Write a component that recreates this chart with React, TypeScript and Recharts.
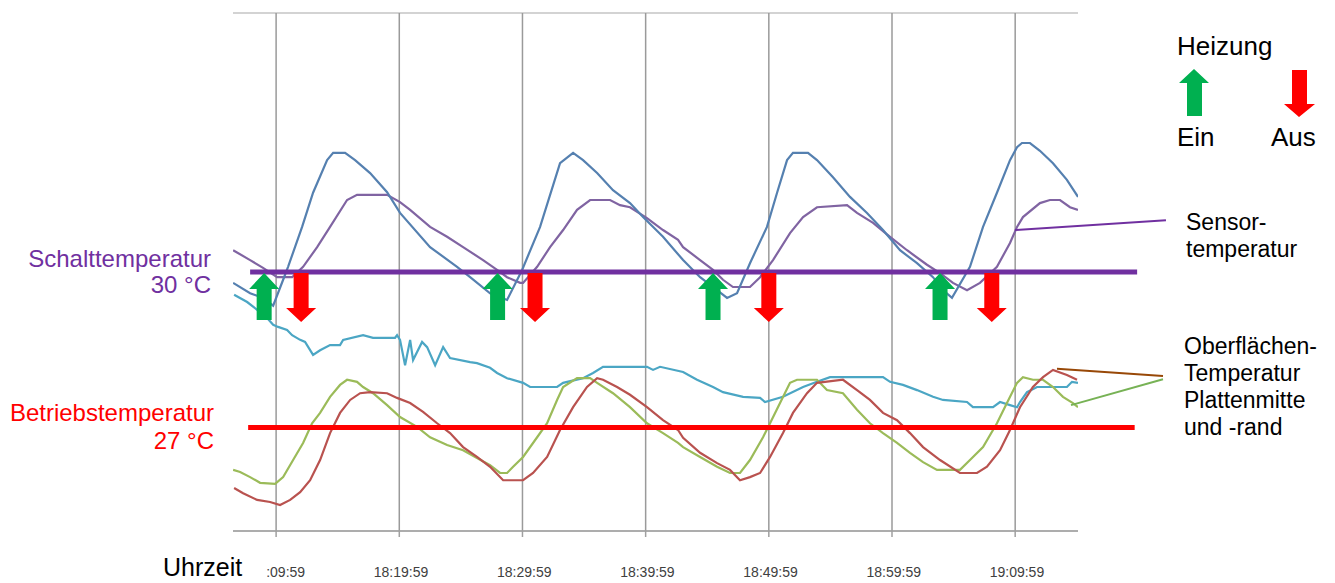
import React from "react";
import {
  ComposedChart,
  Line,
  Scatter,
  XAxis,
  YAxis,
  CartesianGrid,
  ReferenceLine,
} from "recharts";

// Zeit in Minuten ab 18:09:59, Temperatur in °C
const TIME_TICKS = [0, 10, 20, 30, 40, 50, 60];
const TIME_LABELS = [":09:59", "18:19:59", "18:29:59", "18:39:59", "18:49:59", "18:59:59", "19:09:59"];
const TEMP_TICKS = [25, 26, 27, 28, 29, 30, 31, 32, 33, 34, 35];

const SCHALT_TEMP = 30;
const BETRIEB_TEMP = 27;

const HEAT_ON = [-0.97, 17.98, 35.47, 53.9];
const HEAT_OFF = [2.03, 21.02, 40.0, 58.1];

const heizelement = [
  [-3.49, 29.79], [-2.11, 29.59], [-1.06, 29.5], [-0.24, 29.35], [0.57, 29.85], [0.97, 30.1],
  [2.11, 30.87], [3.0, 31.53], [4.14, 32.16], [4.63, 32.3], [5.6, 32.3], [6.41, 32.16],
  [7.63, 31.91], [9.01, 31.54], [10.06, 31.14], [12.5, 30.48], [14.69, 30.1], [15.75, 29.9],
  [17.37, 29.59], [18.75, 29.46], [19.97, 30.04], [21.43, 30.87], [23.05, 32.1], [24.11, 32.3],
  [24.92, 32.16], [26.06, 31.91], [27.35, 31.58], [28.73, 31.33], [29.79, 31.06], [31.41, 30.68],
  [33.04, 30.23], [34.42, 29.9], [35.8, 29.65], [36.61, 29.5], [37.42, 29.59], [38.47, 30.17],
  [39.85, 30.87], [40.67, 31.53], [41.48, 32.16], [41.96, 32.3], [43.18, 32.3], [43.91, 32.16],
  [45.21, 31.83], [46.59, 31.45], [47.97, 31.14], [49.27, 30.81], [50.65, 30.42], [52.03, 30.17],
  [53.33, 29.9], [54.14, 29.65], [54.87, 29.5], [56.33, 30.1], [57.39, 30.87], [58.52, 31.53],
  [59.58, 32.16], [60.15, 32.41], [60.55, 32.49], [61.2, 32.49], [62.01, 32.34], [63.07, 32.1],
  [64.2, 31.78], [65.1, 31.45],
];

const sensor = [
  [-3.49, 30.42], [-2.11, 30.23], [-1.06, 30.08], [0.08, 29.9], [1.3, 29.9], [2.19, 30.1],
  [3.33, 30.48], [4.38, 30.87], [5.76, 31.39], [6.57, 31.49], [9.01, 31.49], [10.06, 31.35],
  [10.88, 31.2], [12.5, 30.87], [13.88, 30.68], [15.18, 30.48], [16.8, 30.23], [17.94, 30.04],
  [18.75, 29.9], [19.81, 29.79], [20.05, 29.79], [21.19, 30.1], [22.24, 30.48], [23.3, 30.81],
  [24.43, 31.2], [25.49, 31.39], [27.11, 31.39], [27.92, 31.29], [28.73, 31.25], [30.11, 31.04],
  [31.41, 30.81], [32.63, 30.62], [33.04, 30.48], [34.42, 30.23], [35.47, 30.04], [36.28, 29.85],
  [37.09, 29.71], [38.47, 29.71], [39.29, 29.9], [40.34, 30.23], [41.72, 30.75], [42.78, 31.06],
  [43.91, 31.25], [46.35, 31.29], [47.16, 31.14], [48.46, 30.95], [49.84, 30.68], [51.22, 30.42],
  [52.84, 30.14], [53.9, 29.98], [54.95, 29.79], [56.09, 29.65], [57.14, 29.79], [58.52, 30.1],
  [59.58, 30.56], [60.15, 30.87], [60.63, 31.06], [62.01, 31.33], [62.82, 31.39], [63.64, 31.39],
  [64.45, 31.25], [65.1, 31.2],
];

const luft = [
  [-3.41, 29.56], [-2.35, 29.42], [-1.54, 29.27], [-0.73, 29.11], [-0.24, 28.98], [0.16, 28.94],
  [0.89, 28.88], [1.3, 28.78], [1.95, 28.69], [2.35, 28.65], [3.0, 28.4], [3.57, 28.49],
  [4.38, 28.59], [5.19, 28.59], [5.44, 28.69], [7.06, 28.78], [7.87, 28.73], [9.66, 28.73],
  [9.82, 28.78], [10.06, 28.69], [10.47, 28.2], [10.88, 28.69], [11.12, 28.3], [11.85, 28.65],
  [12.26, 28.55], [12.91, 28.2], [13.56, 28.55], [14.12, 28.34], [15.75, 28.26], [16.31, 28.24],
  [17.37, 28.15], [17.94, 28.05], [18.75, 27.95], [20.05, 27.86], [20.62, 27.78], [22.81, 27.78],
  [23.3, 27.86], [24.92, 27.95], [25.73, 28.05], [26.54, 28.17], [30.11, 28.17], [30.6, 28.11],
  [31.17, 28.17], [33.04, 28.07], [34.17, 27.92], [35.47, 27.78], [36.28, 27.68], [37.91, 27.59],
  [39.29, 27.57], [39.69, 27.49], [41.15, 27.59], [42.78, 27.78], [43.91, 27.88], [44.97, 27.97],
  [49.27, 27.97], [49.84, 27.88], [50.89, 27.82], [52.03, 27.72], [53.33, 27.59], [54.14, 27.53],
  [56.09, 27.49], [56.57, 27.39], [58.2, 27.39], [58.77, 27.49], [59.58, 27.43], [60.15, 27.39],
  [60.39, 27.49], [60.96, 27.68], [61.77, 27.78], [64.2, 27.78], [64.61, 27.88], [65.1, 27.86],
];

const plattenrand = [
  [-3.49, 26.18], [-2.92, 26.14], [-2.11, 26.04], [-1.3, 25.93], [-0.08, 25.91], [0.57, 26.04],
  [1.38, 26.37], [2.19, 26.7], [2.92, 27.08], [3.57, 27.28], [4.38, 27.59], [5.19, 27.82],
  [5.76, 27.92], [6.57, 27.88], [7.06, 27.78], [7.87, 27.66], [9.01, 27.43], [10.06, 27.2],
  [11.44, 27.01], [12.5, 26.81], [13.88, 26.66], [15.18, 26.56], [16.31, 26.41], [17.37, 26.27],
  [18.18, 26.12], [18.75, 26.12], [19.24, 26.24], [20.05, 26.43], [21.19, 26.81], [22.0, 27.08],
  [22.81, 27.53], [23.3, 27.78], [24.43, 27.95], [25.49, 27.95], [26.06, 27.86], [27.35, 27.66],
  [28.73, 27.39], [30.11, 27.08], [31.41, 26.89], [32.63, 26.7], [33.04, 26.62], [34.42, 26.43],
  [35.8, 26.24], [36.85, 26.12], [37.66, 26.12], [38.47, 26.37], [39.53, 26.81], [40.1, 27.08],
  [40.91, 27.47], [41.72, 27.86], [42.29, 27.92], [43.91, 27.92], [44.72, 27.72], [46.02, 27.66],
  [47.16, 27.34], [48.21, 27.08], [49.27, 26.89], [50.41, 26.7], [51.46, 26.51], [52.52, 26.33],
  [53.65, 26.18], [55.52, 26.18], [56.33, 26.37], [57.39, 26.62], [58.52, 27.08], [59.33, 27.47],
  [60.15, 27.86], [60.63, 27.97], [61.44, 27.92], [62.26, 27.92], [63.07, 27.78], [63.88, 27.59],
  [64.69, 27.47], [65.1, 27.39],
];

const plattenmitte = [
  [-3.41, 25.83], [-2.68, 25.73], [-1.54, 25.6], [-0.49, 25.56], [0.32, 25.5], [1.14, 25.6],
  [1.95, 25.75], [2.76, 25.98], [3.57, 26.37], [4.38, 26.89], [5.19, 27.28], [6.01, 27.53],
  [6.82, 27.66], [7.63, 27.68], [9.01, 27.66], [9.82, 27.57], [10.88, 27.47], [11.93, 27.3],
  [13.07, 27.08], [14.12, 26.89], [15.18, 26.62], [16.31, 26.43], [17.37, 26.24], [18.43, 25.98],
  [20.05, 25.98], [20.86, 26.12], [22.0, 26.43], [23.05, 26.95], [24.11, 27.39], [25.24, 27.78],
  [26.06, 27.95], [26.54, 27.92], [27.68, 27.78], [28.73, 27.63], [30.11, 27.39], [31.41, 27.14],
  [32.63, 26.95], [33.04, 26.8], [34.42, 26.51], [35.8, 26.31], [36.85, 26.18], [37.66, 25.98],
  [38.47, 26.04], [39.29, 26.12], [40.1, 26.43], [41.15, 26.89], [41.96, 27.28], [43.1, 27.66],
  [43.91, 27.86], [46.02, 27.92], [47.16, 27.72], [48.21, 27.53], [49.27, 27.28], [50.41, 27.14],
  [51.46, 26.89], [52.52, 26.62], [53.9, 26.37], [55.52, 26.12], [56.9, 26.12], [57.71, 26.24],
  [58.77, 26.56], [59.58, 26.95], [60.39, 27.39], [61.44, 27.78], [62.26, 27.97], [63.07, 28.11],
  [64.2, 28.01], [65.02, 27.92],
];

const toRows = (pts: number[][]) => pts.map(([t, v]) => ({ t, v }));

const FONT = "'Liberation Sans', Arial, sans-serif";

const TimeTick = (props: any) => {
  const { x, y, payload } = props;
  const i = TIME_TICKS.indexOf(payload.value);
  return (
    <text x={x + 29} y={y} dy={38} textAnchor="end" fontSize={14} fontFamily={FONT} fill="#404040">
      {TIME_LABELS[i]}
    </text>
  );
};

const UpArrow = (props: any) => {
  const { cx, cy } = props;
  const top = cy + 1;
  return (
    <polygon
      points={`${cx},${top} ${cx + 15},${top + 16} ${cx + 7.5},${top + 16} ${cx + 7.5},${top + 47} ${cx - 7.5},${top + 47} ${cx - 7.5},${top + 16} ${cx - 15},${top + 16}`}
      fill="#00B050"
    />
  );
};

const DownArrow = (props: any) => {
  const { cx, cy } = props;
  const top = cy + 1;
  return (
    <polygon
      points={`${cx - 7.5},${top} ${cx + 7.5},${top} ${cx + 7.5},${top + 35} ${cx + 15},${top + 35} ${cx},${top + 49} ${cx - 15},${top + 35} ${cx - 7.5},${top + 35}`}
      fill="#FF0000"
    />
  );
};

function Annotations() {
  return (
    <svg
      width={1335}
      height={583}
      style={{ position: "absolute", left: 0, top: 0, pointerEvents: "none" }}
      fontFamily={FONT}
    >
      <text x={211} y={267} textAnchor="end" fontSize={24} fill="#7030A0">Schalttemperatur</text>
      <text x={211} y={293} textAnchor="end" fontSize={24} fill="#7030A0">30 °C</text>
      <text x={214} y={421} textAnchor="end" fontSize={24} fill="#FF0000">Betriebstemperatur</text>
      <text x={214} y={449} textAnchor="end" fontSize={24} fill="#FF0000">27 °C</text>

      <text x={1177} y={55} fontSize={26} fill="#000">Heizung</text>
      <polygon points="1194,69 1209,83 1202,83 1202,116 1187,116 1187,83 1179,83" fill="#00B050" />
      <polygon points="1292,70 1307,70 1307,104 1315,104 1299,117 1284,104 1292,104" fill="#FF0000" />
      <text x={1177} y={146} fontSize={26} fill="#000">Ein</text>
      <text x={1271} y={146} fontSize={26} fill="#000">Aus</text>

      <text x={1186} y={230} fontSize={23} fill="#000">Sensor-</text>
      <text x={1186} y={257} fontSize={23} fill="#000">temperatur</text>

      <text x={1184} y={354} fontSize={23} fill="#000">Oberflächen-</text>
      <text x={1184} y={381} fontSize={23} fill="#000">Temperatur</text>
      <text x={1184} y={408} fontSize={23} fill="#000">Plattenmitte</text>
      <text x={1184} y={435} fontSize={23} fill="#000">und -rand</text>

      <text x={163} y={576} fontSize={25} fill="#000">Uhrzeit</text>
    </svg>
  );
}

export default function App() {
  return (
    <div style={{ position: "absolute", left: 0, top: 0, width: 1335, height: 583, background: "#fff" }}>
      <ComposedChart width={1335} height={583} margin={{ top: 13, right: 257, bottom: 12, left: 233 }}>
        <CartesianGrid vertical={false} stroke="#C4C4C4" strokeWidth={1.5} />
        <CartesianGrid horizontal={false} syncWithTicks stroke="#9A9A9A" strokeWidth={1.5} />
        <XAxis
          type="number"
          dataKey="t"
          domain={[-3.5, 65.1]}
          allowDataOverflow
          ticks={TIME_TICKS}
          height={40}
          tick={<TimeTick />}
          tickSize={6}
          stroke="#A0A0A0"
          strokeWidth={1.5}
        />
        <YAxis
          type="number"
          domain={[25, 35]}
          ticks={TEMP_TICKS}
          width={0}
          tick={false}
          axisLine={false}
          tickLine={false}
        />
        <Line data={toRows(luft)} dataKey="v" stroke="#4BA6C4" strokeWidth={2.2} dot={false} isAnimationActive={false} />
        <Line data={toRows(plattenrand)} dataKey="v" stroke="#9BBB59" strokeWidth={2.2} dot={false} isAnimationActive={false} />
        <Line data={toRows(plattenmitte)} dataKey="v" stroke="#B9524F" strokeWidth={2.2} dot={false} isAnimationActive={false} />
        <Line data={toRows(sensor)} dataKey="v" stroke="#8064A2" strokeWidth={2.2} dot={false} isAnimationActive={false} />
        <Line data={toRows(heizelement)} dataKey="v" stroke="#5580B0" strokeWidth={2.2} dot={false} isAnimationActive={false} />

        <ReferenceLine
          segment={[{ x: -2.11, y: SCHALT_TEMP }, { x: 69.9, y: SCHALT_TEMP }]}
          stroke="#7030A0"
          strokeWidth={5}
          ifOverflow="visible"
        />
        <ReferenceLine
          segment={[{ x: -2.27, y: BETRIEB_TEMP }, { x: 69.7, y: BETRIEB_TEMP }]}
          stroke="#FF0000"
          strokeWidth={5}
          ifOverflow="visible"
        />
        <ReferenceLine
          segment={[{ x: 59.98, y: 30.81 }, { x: 72.24, y: 31.0 }]}
          stroke="#7030A0"
          strokeWidth={2}
          ifOverflow="visible"
        />
        <ReferenceLine
          segment={[{ x: 63.39, y: 28.13 }, { x: 72.0, y: 27.99 }]}
          stroke="#984807"
          strokeWidth={2}
          ifOverflow="visible"
        />
        <ReferenceLine
          segment={[{ x: 64.53, y: 27.43 }, { x: 72.0, y: 27.93 }]}
          stroke="#77B255"
          strokeWidth={2}
          ifOverflow="visible"
        />

        <Scatter
          data={HEAT_ON.map((t) => ({ t, v: SCHALT_TEMP }))}
          dataKey="v"
          shape={<UpArrow />}
          isAnimationActive={false}
        />
        <Scatter
          data={HEAT_OFF.map((t) => ({ t, v: SCHALT_TEMP }))}
          dataKey="v"
          shape={<DownArrow />}
          isAnimationActive={false}
        />
      </ComposedChart>
      <Annotations />
    </div>
  );
}
